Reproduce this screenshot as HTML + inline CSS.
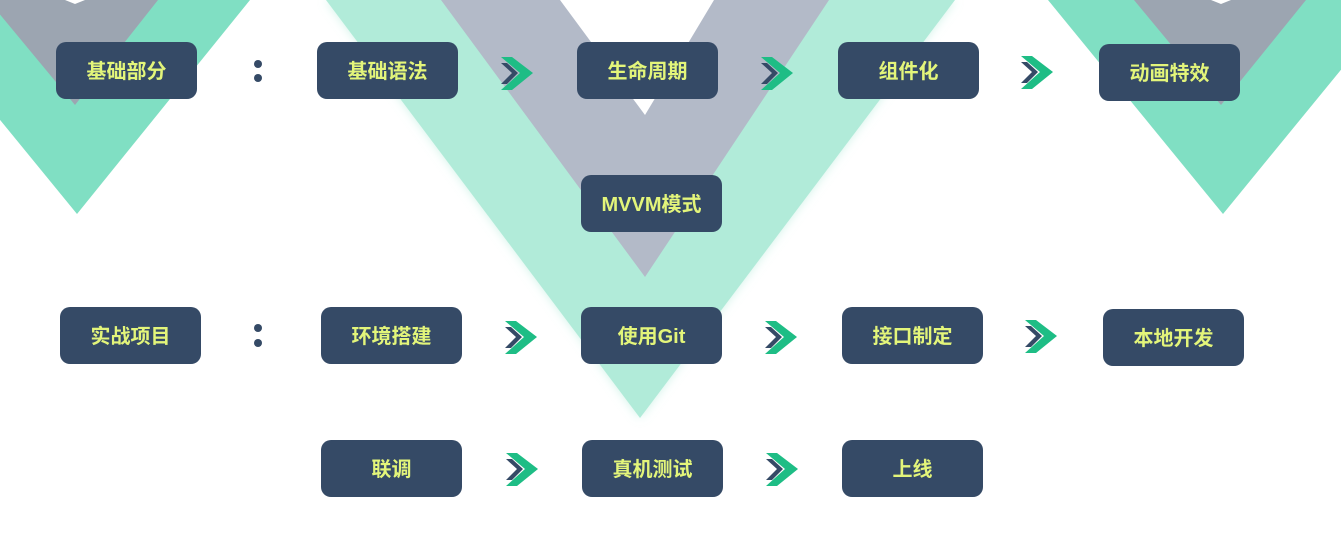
<!DOCTYPE html>
<html><head><meta charset="utf-8"><style>
body{margin:0;width:1341px;height:537px;overflow:hidden;background:#fff;position:relative;font-family:"Liberation Sans","Noto Sans CJK SC",sans-serif}
svg{position:absolute;left:0;top:0}
.b{position:absolute;width:141px;height:57px;background:#354a66;border-radius:10px;color:#e3f57a;font-weight:bold;font-size:20px;line-height:61px;text-align:center}
.d{position:absolute;width:8px;height:8px;border-radius:50%;background:#354a66}
</style></head><body>
<svg width="1341" height="537">
<defs><filter id="g" x="-20%" y="-20%" width="140%" height="140%"><feGaussianBlur in="SourceAlpha" stdDeviation="6"/><feFlood flood-color="#b1ebd9" flood-opacity="0.6"/><feComposite operator="in" in2="SourceAlpha"/><feGaussianBlur stdDeviation="5"/><feMerge><feMergeNode/><feMergeNode in="SourceGraphic"/></feMerge></filter>
<g id="ar"><polygon points="0,0 11,0 32,16 11,33 0,33 19,16" fill="#1ebd85"/><polygon points="0,6 6,6 17,16 6,27 0,27 11,16" fill="#354a66"/></g></defs>
<polygon points="-98,0 250,0 77,214" fill="#80dfc3"/>
<polygon points="-12,0 158,0 75,105" fill="#9ca5b1"/>
<polygon points="65,0 85,0 75,4" fill="#fff"/>
<polygon points="1048,0 1398,0 1223,214" fill="#80dfc3"/>
<polygon points="1134,0 1306,0 1221,105" fill="#9ca5b1"/>
<polygon points="1211,0 1231,0 1221,4" fill="#fff"/>
<polygon points="326,0 955,0 640,418" fill="#b1ebd9" filter="url(#g)"/>
<polygon points="441,0 829,0 645,277" fill="#b3bac8"/>
<polygon points="560,0 714,0 645,115" fill="#fff"/>
<use href="#ar" x="501" y="57"/><use href="#ar" x="761" y="57"/><use href="#ar" x="1021" y="56"/>
<use href="#ar" x="505" y="321"/><use href="#ar" x="765" y="321"/><use href="#ar" x="1025" y="320"/>
<use href="#ar" x="506" y="453"/><use href="#ar" x="766" y="453"/>
</svg>
<div class="b" style="left:56px;top:42px">基础部分</div>
<div class="d" style="left:254px;top:60px"></div><div class="d" style="left:254px;top:74px"></div>
<div class="b" style="left:317px;top:42px">基础语法</div>
<div class="b" style="left:577px;top:42px">生命周期</div>
<div class="b" style="left:838px;top:42px">组件化</div>
<div class="b" style="left:1099px;top:44px">动画特效</div>
<div class="b" style="left:581px;top:175px">MVVM模式</div>
<div class="b" style="left:60px;top:307px">实战项目</div>
<div class="d" style="left:254px;top:324px"></div><div class="d" style="left:254px;top:339px"></div>
<div class="b" style="left:321px;top:307px">环境搭建</div>
<div class="b" style="left:581px;top:307px">使用Git</div>
<div class="b" style="left:842px;top:307px">接口制定</div>
<div class="b" style="left:1103px;top:309px">本地开发</div>
<div class="b" style="left:321px;top:440px">联调</div>
<div class="b" style="left:582px;top:440px">真机测试</div>
<div class="b" style="left:842px;top:440px">上线</div>
</body></html>
